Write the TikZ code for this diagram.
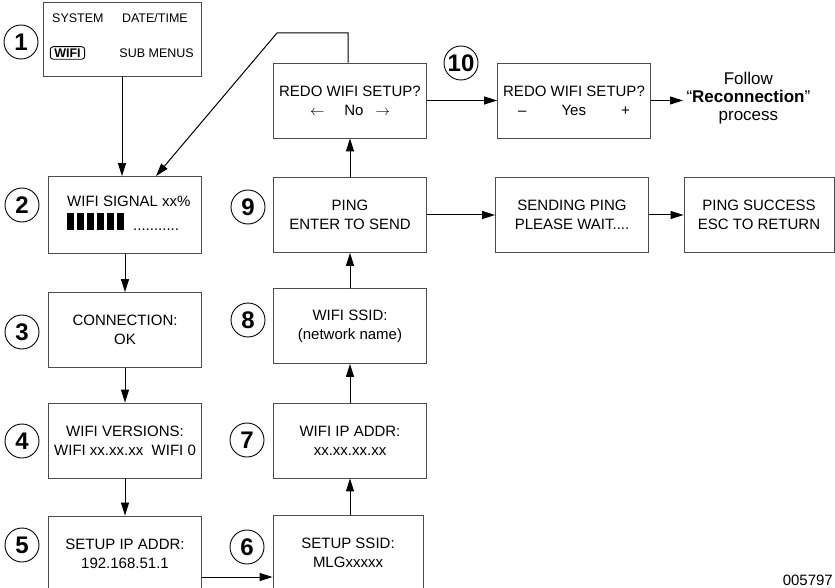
\documentclass[tikz,border=0pt]{standalone}
\usepackage{fontspec}
\setmainfont{Liberation Sans}
\usetikzlibrary{arrows.meta, positioning, calc}

\begin{document}
\begin{tikzpicture}[
  x=1pt, y=-1pt,
  screen/.style={rectangle, draw=black!70, line width=0.8pt, minimum width=153pt,
    minimum height=75pt, align=center, inner sep=2pt, font=\fontsize{15}{19}\selectfont},
  num/.style={circle, draw, line width=0.9pt, minimum size=34pt, inner sep=0pt,
    font=\bfseries\fontsize{24}{24}\selectfont},
  menu/.style={inner sep=0pt, font=\fontsize{12.5}{15}\selectfont},
  flow/.style={-{Triangle[length=13pt, width=8pt]}, line width=1pt},
]
  \clip (0,0) rectangle (835,588);

  % left column
  \node[screen, minimum width=158pt, minimum height=74pt] (s1) at (122,39) {};
  \node[menu, anchor=west] (sys) at (52,18) {SYSTEM};
  \node[menu, anchor=east] (date) at (188,18) {DATE/TIME};
  \node[menu, draw, rounded corners=3pt, line width=0.9pt, inner xsep=4pt, inner ysep=2pt,
    font=\bfseries\fontsize{12.5}{15}\selectfont] (wifi) at (67.5,53) {WIFI};
  \node[menu, anchor=east] (sub) at (194,53) {SUB MENUS};

  \node[screen, minimum height=77pt] (s2) at (125,215) {};
  \node[anchor=base west, inner sep=0pt, font=\fontsize{15}{19}\selectfont] (sig) at (67,207) {WIFI SIGNAL xx\%};
  \foreach \i in {0,...,5}
    \fill (67+10*\i,213) rectangle ++(7,17);
  \node[anchor=base west, inner sep=0pt, font=\fontsize{15}{19}\selectfont] (dots) at (133,230) {...........};

  \node[screen] (s3) at (125,330) {CONNECTION:\\OK};
  \node[screen] (s4) at (125,440.5) {WIFI VERSIONS:\\WIFI xx.xx.xx\ \ WIFI 0};
  \node[screen] (s5) at (125,553.5) {SETUP IP ADDR:\\192.168.51.1};

  % middle column
  \node[screen, minimum width=150pt] (s6) at (348,553) {SETUP SSID:\\MLGxxxxx};
  \node[screen] (s7) at (350,440.5) {WIFI IP ADDR:\\xx.xx.xx.xx};
  \node[screen] (s8) at (350,326) {WIFI SSID:\\(network name)};
  \node[screen] (s9) at (350,215) {PING\\ENTER TO SEND};
  \node[screen] (s10) at (350,100.5) {REDO WIFI SETUP?\\$\leftarrow$\hspace{20pt}No\hspace{12pt}$\rightarrow$};

  % right side
  \node[screen] (yes) at (574,100.5) {REDO WIFI SETUP?\\\makebox[112pt]{--\hfill Yes\hfill +}};
  \node[screen] (send) at (572,215) {SENDING PING\\PLEASE WAIT....};
  \node[screen, minimum width=150pt] (done) at (759,215) {PING SUCCESS\\ESC TO RETURN};
  \node[anchor=west, align=center, font=\fontsize{17}{18}\selectfont] (follow) at (683,98)
    {Follow\\“\textbf{Reconnection}”\\process};

  % step numbers
  \node[num] (n1) at (21,42) {1};
  \node[num] (n2) at (22,205) {2};
  \node[num] (n3) at (22,332) {3};
  \node[num] (n4) at (22,441) {4};
  \node[num] (n5) at (22,545) {5};
  \node[num] (n6) at (247,547) {6};
  \node[num] (n7) at (247,440) {7};
  \node[num] (n8) at (248,320) {8};
  \node[num] (n9) at (248,207) {9};
  \node[num] (n10) at (461,63) {10};

  \node[anchor=base east, inner sep=0pt, font=\fontsize{15}{15}\selectfont] (code) at (833,585) {005797};

  % connectors
  \draw[flow] (s1.south) -- (s1.south |- s2.north);
  \draw[flow] (s2) -- (s3);
  \draw[flow] (s3) -- (s4);
  \draw[flow] (s4) -- (s5);
  \draw[flow] ([yshift=-23.5pt]s5.east) -- ([yshift=-23.5pt]s5.east -| s6.west);
  \draw[flow] (s6.north -| s7.south) -- (s7.south);
  \draw[flow] (s7) -- (s8);
  \draw[flow] (s8) -- (s9);
  \draw[flow] (s9) -- (s10);
  \draw[flow] (s9) -- (send);
  \draw[flow] (send) -- (done);
  \draw[flow] (s10) -- (yes);
  \draw[flow] (yes.east) -- (yes.east -| follow.west);
  \coordinate (bend) at (277,33);
  \draw[flow] ([xshift=-2pt]s10.north) |- (bend) -- ([xshift=31pt]s2.north);
\end{tikzpicture}
\end{document}
